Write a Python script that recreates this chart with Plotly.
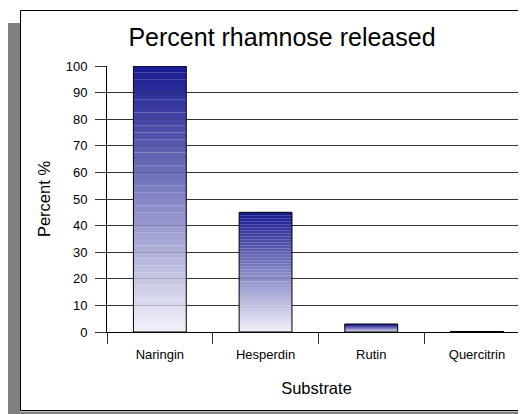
import plotly.graph_objects as go

# ---- data ----
categories = ["Naringin", "Hesperdin", "Rutin", "Quercitrin"]
percent_released = [100, 45, 3, 0.2]
y_ticks = [0, 10, 20, 30, 40, 50, 60, 70, 80, 90, 100]

# ---- styling ----
OFF = 8  # page body margin
W, H = 526 - OFF, 414 - OFF
L, R, T, B = 107 - OFF, 0, 66 - OFF, 82
pw, ph = W - L - R, H - T - B

top_rgb = (24, 24, 144)
bottom_rgb = (242, 242, 250)
N_SEG = 40

def px_x(p):
    return (p - OFF - L) / pw

def px_y(p):
    return (H - B - (p - OFF)) / ph

fig = go.Figure()

# gradient fill: each bar drawn as thin layers from its own value
for k in range(N_SEG):
    t = (k + 0.5) / N_SEG
    c = tuple(round(bottom_rgb[i] + (top_rgb[i] - bottom_rgb[i]) * t) for i in range(3))
    fig.add_trace(go.Bar(
        x=categories,
        y=[v / N_SEG for v in percent_released],
        base=[v * k / N_SEG for v in percent_released],
        width=0.5,
        marker=dict(color="rgb(%d,%d,%d)" % c, line=dict(width=0)),
        hoverinfo="skip",
        showlegend=False,
    ))

# outline of each bar
fig.add_trace(go.Bar(
    x=categories,
    y=percent_released,
    width=0.5,
    marker=dict(color="rgba(0,0,0,0)", line=dict(color="#000000", width=1)),
    name="Percent %",
    showlegend=False,
))

font = "Liberation Sans, Arial, sans-serif"

fig.update_layout(
    width=W, height=H,
    margin=dict(l=L, r=R, t=T, b=B, pad=0),
    barmode="overlay",
    paper_bgcolor="white",
    plot_bgcolor="white",
    font=dict(family=font, color="#000000"),
    title=dict(
        text="Percent rhamnose released",
        font=dict(size=25, family=font, color="#000000"),
        xref="container", yref="container",
        x=(282 - OFF) / W, xanchor="center",
        y=1 - (37 - OFF) / H, yanchor="middle",
    ),
    xaxis=dict(
        range=[-0.5, -0.5 + pw / 105.7],
        showgrid=False,
        showline=True, linecolor="#000000", linewidth=1,
        ticks="outside", ticklen=11, tickcolor="#333333", tickwidth=1,
        tickson="boundaries",
        ticklabelstandoff=10,
        tickfont=dict(size=13),
        title=dict(text="Substrate", font=dict(size=16.5), standoff=21),
        fixedrange=True,
    ),
    yaxis=dict(
        range=[0, 100],
        tickvals=y_ticks,
        showgrid=True, gridcolor="#333333", gridwidth=1,
        showline=True, linecolor="#000000", linewidth=1,
        ticks="outside", ticklen=11, tickcolor="#333333", tickwidth=1,
        ticklabelstandoff=5,
        tickfont=dict(size=13),
        zeroline=False,
        title=dict(text="Percent %", font=dict(size=16.5), standoff=10),
        fixedrange=True,
    ),
    shapes=[
        # gray shadow strips
        dict(type="rect", xref="paper", yref="paper",
             x0=px_x(0), x1=px_x(20), y0=px_y(420), y1=px_y(23),
             fillcolor="#808080", line=dict(width=0), layer="below"),
        dict(type="rect", xref="paper", yref="paper",
             x0=px_x(0), x1=px_x(530), y0=px_y(420), y1=px_y(411.5),
             fillcolor="#808080", line=dict(width=0), layer="below"),
        # black frame
        dict(type="rect", xref="paper", yref="paper",
             x0=px_x(20.5), x1=px_x(540), y0=px_y(410.5), y1=px_y(10.5),
             fillcolor="rgba(0,0,0,0)", line=dict(color="#000000", width=1), layer="above"),
    ],
)

fig.write_html("out.html", config={"displayModeBar": False})
